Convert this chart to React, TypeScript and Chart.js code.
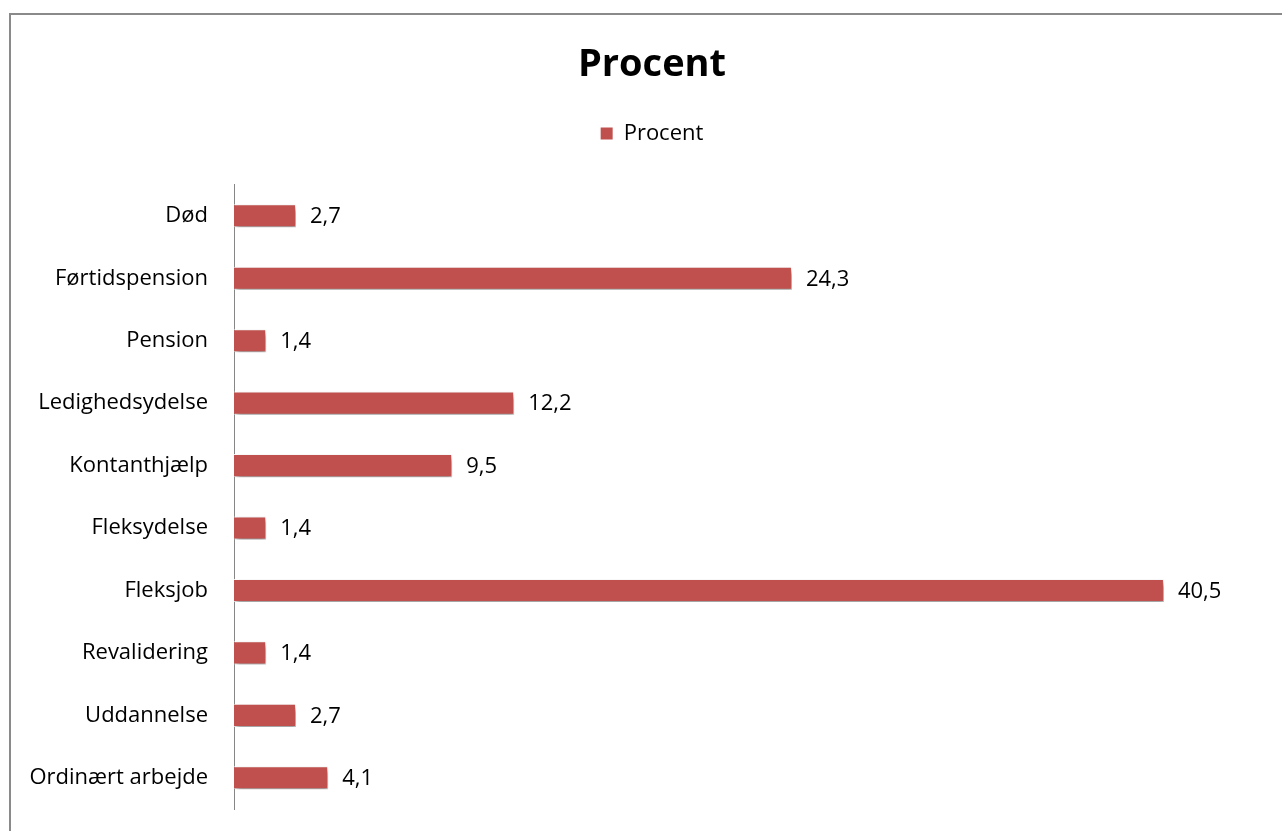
import React, { useEffect, useRef } from "react";
import { Chart, registerables } from "chart.js";

Chart.register(...registerables);

const categories = [
  "Død",
  "Førtidspension",
  "Pension",
  "Ledighedsydelse",
  "Kontanthjælp",
  "Fleksydelse",
  "Fleksjob",
  "Revalidering",
  "Uddannelse",
  "Ordinært arbejde",
];
const values = [2.7, 24.3, 1.4, 12.2, 9.5, 1.4, 40.5, 1.4, 2.7, 4.1];
const seriesName = "Procent";
const chartTitle = "Procent";
const xMin = 0;
const xMax = 46.6;

const FONT = "'Open Sans', 'DejaVu Sans', sans-serif";
const BAR_COLOR = "#C0504D";

const shadowPlugin = {
  id: "barShadow",
  beforeDatasetsDraw(chart: any) {
    const ctx = chart.ctx;
    ctx.save();
    ctx.shadowColor = "rgba(0,0,0,0.45)";
    ctx.shadowBlur = 5;
    ctx.shadowOffsetX = 2;
    ctx.shadowOffsetY = 3;
  },
  afterDatasetsDraw(chart: any) {
    chart.ctx.restore();
  },
};

const valueLabelPlugin = {
  id: "valueLabels",
  afterDraw(chart: any) {
    const ctx = chart.ctx;
    const meta = chart.getDatasetMeta(0);
    const data = chart.data.datasets[0].data as number[];
    ctx.save();
    ctx.font = `22px ${FONT}`;
    ctx.fillStyle = "#000000";
    ctx.textAlign = "left";
    ctx.textBaseline = "middle";
    meta.data.forEach((bar: any, i: number) => {
      const txt = String(data[i]).replace(".", ",");
      ctx.fillText(txt, bar.x + 14, bar.y + 1);
    });
    ctx.restore();
  },
};

export default function App() {
  const canvasRef = useRef<HTMLCanvasElement | null>(null);

  useEffect(() => {
    document.body.style.margin = "0";
    const canvas = canvasRef.current;
    if (!canvas) return;
    const chart = new Chart(canvas, {
      type: "bar",
      data: {
        labels: categories,
        datasets: [
          {
            label: seriesName,
            data: values,
            backgroundColor: BAR_COLOR,
            borderColor: "rgba(255,255,255,0.85)",
            borderWidth: 1,
            barPercentage: 0.37,
            categoryPercentage: 1,
          },
        ],
      },
      options: {
        indexAxis: "y",
        animation: false,
        responsive: true,
        maintainAspectRatio: false,
        layout: { padding: { top: 0, right: 0, bottom: 22, left: 0 } },
        plugins: {
          tooltip: { enabled: false },
          title: {
            display: true,
            text: chartTitle,
            color: "#000000",
            font: { family: FONT, size: 38, weight: "bold" },
            padding: { top: 42, bottom: 25 },
          },
          legend: {
            display: true,
            position: "top",
            labels: {
              boxWidth: 12,
              boxHeight: 12,
              padding: 10,
              color: "#000000",
              font: { family: FONT, size: 22 },
              generateLabels: () => [
                {
                  text: seriesName,
                  fillStyle: BAR_COLOR,
                  strokeStyle: BAR_COLOR,
                  lineWidth: 0,
                  hidden: false,
                  datasetIndex: 0,
                },
              ],
            },
          },
        },
        scales: {
          x: {
            position: "top",
            min: xMin,
            max: xMax,
            display: true,
            grid: { display: false, drawTicks: false },
            border: { display: false },
            ticks: { display: false },
            afterFit: (s: any) => {
              s.height = 30;
            },
          },
          y: {
            grid: { display: false, drawTicks: false },
            border: { display: true, color: "#868686", width: 1 },
            ticks: {
              padding: 26,
              color: "#000000",
              font: { family: FONT, size: 22 },
            },
            afterFit: (s: any) => {
              s.width = 234;
              s.paddingTop = 0;
              s.paddingBottom = 0;
            },
          },
        },
      },
      plugins: [shadowPlugin, valueLabelPlugin],
    });
    return () => chart.destroy();
  }, []);

  return (
    <div
      style={{
        position: "fixed",
        left: 0,
        top: 0,
        width: 1282,
        height: 831,
        background: "#ffffff",
        overflow: "hidden",
      }}
    >
      <div
        style={{
          position: "absolute",
          left: 9,
          top: 13,
          width: 1400,
          height: 1000,
          border: "2px solid #8a8a8a",
          boxSizing: "border-box",
        }}
      />
      <div style={{ position: "absolute", left: 0, top: 0, width: 1304, height: 831 }}>
        <canvas ref={canvasRef} />
      </div>
    </div>
  );
}
